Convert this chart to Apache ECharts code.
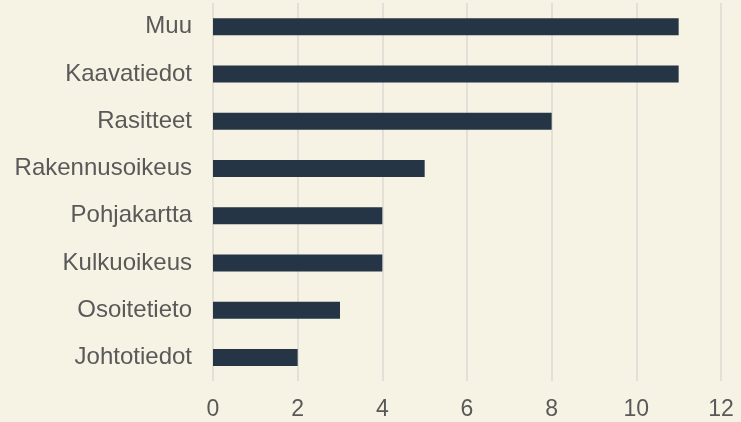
<!DOCTYPE html>
<html>
<head>
<meta charset="utf-8">
<script src="https://cdn.jsdelivr.net/npm/echarts@6/dist/echarts.min.js"></script>
<style>
  html, body { margin: 0; padding: 0; background: #f6f2e4; }
  #chart { width: 741px; height: 422px; }
</style>
</head>
<body>
<div id="chart"></div>
<script>
// luokat alhaalta ylös
var categories = ['Johtotiedot', 'Osoitetieto', 'Kulkuoikeus', 'Pohjakartta', 'Rakennusoikeus', 'Rasitteet', 'Kaavatiedot', 'Muu'];
var counts = [2, 3, 4, 4, 5, 8, 11, 11];
var xTicks = [0, 2, 4, 6, 8, 10, 12];

var chart = echarts.init(document.getElementById('chart'));
chart.setOption({
    backgroundColor: '#f6f2e4',
    animation: false,
    grid: { left: 213, right: 20, top: 3, bottom: 41, containLabel: false },
    xAxis: {
        type: 'value',
        min: xTicks[0],
        max: xTicks[xTicks.length - 1],
        interval: 2,
        axisLine: { show: false },
        axisTick: { show: false },
        axisLabel: { color: '#595959', fontSize: 23, fontFamily: 'Liberation Sans', margin: 17 },
        splitLine: { lineStyle: { color: '#dcdad5', width: 1.5 } }
    },
    yAxis: {
        type: 'category',
        data: categories,
        axisLine: { show: false },
        axisTick: { show: false },
        axisLabel: { color: '#595959', fontSize: 24, fontFamily: 'Liberation Sans', margin: 21 }
    },
    series: [{
        type: 'bar',
        data: counts,
        barWidth: 17,
        itemStyle: { color: '#253545' }
    }]
});
</script>
</body>
</html>
